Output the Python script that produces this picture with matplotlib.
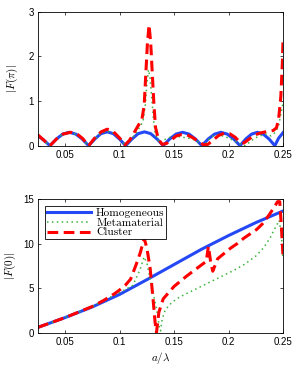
import matplotlib
matplotlib.use("Agg")
import matplotlib.pyplot as plt

# |F(pi)|, top panel
top_hom_x = [0.025, 0.030, 0.036, 0.0419, 0.0478, 0.0538, 0.0597, 0.0656, 0.0715,
             0.0772, 0.0828, 0.0885, 0.0942, 0.0998, 0.1055,
             0.1113, 0.117, 0.1228, 0.1285, 0.1343, 0.140,
             0.1459, 0.1518, 0.1578, 0.1637, 0.1696, 0.1755,
             0.1813, 0.1872, 0.193, 0.1988, 0.2047, 0.2105,
             0.2158, 0.2212, 0.2265, 0.2318, 0.2372, 0.2425, 0.246, 0.25]
top_hom_y = [0.22, 0.13, 0.0, 0.15, 0.26, 0.30, 0.26, 0.15, 0.0,
             0.15, 0.27, 0.31, 0.27, 0.15, 0.0,
             0.15, 0.27, 0.31, 0.27, 0.15, 0.0,
             0.15, 0.26, 0.30, 0.26, 0.15, 0.0,
             0.15, 0.26, 0.30, 0.26, 0.15, 0.0,
             0.15, 0.26, 0.30, 0.26, 0.15, 0.0, 0.17, 0.29]

top_meta_x = [0.025, 0.030, 0.036, 0.0419, 0.0478, 0.0538, 0.0597, 0.0656, 0.0715,
              0.0772, 0.0828, 0.0885, 0.0942, 0.0998, 0.1055, 0.110, 0.114, 0.118,
              0.1215, 0.1235, 0.125, 0.1265, 0.128, 0.1295, 0.131, 0.1325, 0.1345,
              0.137, 0.140, 0.145, 0.150, 0.155, 0.160, 0.165, 0.170, 0.1745, 0.178,
              0.182, 0.186, 0.191, 0.196, 0.201, 0.206, 0.211, 0.215, 0.219, 0.224,
              0.229, 0.234, 0.239, 0.243, 0.246, 0.248, 0.25]
top_meta_y = [0.2, 0.12, 0.0, 0.15, 0.26, 0.3, 0.26, 0.15, 0.0,
              0.15, 0.28, 0.33, 0.28, 0.15, 0.01, 0.12, 0.25, 0.4,
              0.55, 0.9, 1.4, 1.7, 1.5, 1.05, 0.6, 0.3, 0.15,
              0.05, 0.12, 0.18, 0.21, 0.2, 0.18, 0.16, 0.12, 0.04, 0.02,
              0.14, 0.22, 0.24, 0.21, 0.16, 0.1, 0.04, 0.0, 0.07, 0.17,
              0.22, 0.26, 0.22, 0.3, 0.45, 0.7, 0.95]

top_clu_x = [0.025, 0.030, 0.036, 0.042, 0.048, 0.055, 0.060, 0.066, 0.0715,
             0.077, 0.083, 0.0886, 0.094, 0.100, 0.105, 0.109, 0.113, 0.117,
             0.1205, 0.1225, 0.124, 0.1255, 0.127, 0.1285, 0.130, 0.1315, 0.133,
             0.1355, 0.139, 0.143, 0.147, 0.152, 0.157, 0.162, 0.167, 0.172, 0.177,
             0.181, 0.186, 0.191, 0.196, 0.201, 0.206, 0.2105, 0.214, 0.219, 0.224,
             0.230, 0.236, 0.241, 0.244, 0.246, 0.248, 0.2495, 0.25]
top_clu_y = [0.24, 0.13, 0.0, 0.15, 0.26, 0.3, 0.28, 0.16, 0.0,
             0.17, 0.31, 0.37, 0.32, 0.17, 0.02, 0.12, 0.28, 0.45,
             0.6, 0.9, 1.6, 2.3, 2.7, 2.3, 1.6, 0.9, 0.4,
             0.15, 0.03, 0.05, 0.12, 0.22, 0.25, 0.24, 0.18, 0.1, 0.02,
             0.03, 0.13, 0.23, 0.28, 0.27, 0.19, 0.08, 0.06, 0.15, 0.24,
             0.29, 0.32, 0.34, 0.4, 0.6, 1.1, 1.9, 2.35]

# |F(0)|, bottom panel
bot_hom_x = [0.025, 0.05, 0.075, 0.1, 0.125, 0.15, 0.175, 0.2, 0.225, 0.25]
bot_hom_y = [0.6, 1.7, 2.9, 4.3, 5.95, 7.65, 9.35, 10.9, 12.35, 13.65]

bot_meta_x = [0.025, 0.05, 0.075, 0.09, 0.1, 0.106, 0.112, 0.1185, 0.1225, 0.125,
              0.128, 0.131, 0.134, 0.1365, 0.1375, 0.139, 0.142, 0.148, 0.155, 0.165,
              0.175, 0.185, 0.195, 0.205, 0.215, 0.225, 0.232, 0.238, 0.243, 0.2465,
              0.2485, 0.25]
bot_meta_y = [0.6, 1.7, 2.95, 3.9, 4.5, 4.9, 5.3, 7.0, 8.5, 7.8,
              6.0, 4.3, 2.6, 0.6, 0.2, 1.5, 2.6, 3.4, 4.0, 4.6,
              5.2, 5.8, 6.4, 7.0, 7.7, 8.6, 9.5, 10.6, 11.8, 12.6,
              11.0, 8.3]

bot_clu_x = [0.025, 0.05, 0.075, 0.085, 0.095, 0.1, 0.105, 0.11, 0.115, 0.119,
             0.1225, 0.125, 0.128, 0.1305, 0.1325, 0.1338, 0.136, 0.14, 0.15, 0.162,
             0.174, 0.1795, 0.1815, 0.1835, 0.1855, 0.19, 0.196, 0.202, 0.208, 0.214,
             0.22, 0.226, 0.231, 0.236, 0.241, 0.245, 0.247, 0.2485, 0.25]
bot_clu_y = [0.6, 1.7, 2.95, 3.6, 4.35, 4.8, 5.3, 6.0, 7.6, 9.0,
             10.6, 9.5, 7.2, 4.0, 1.2, 0.0, 2.3, 3.8, 5.2, 6.4,
             7.5, 8.0, 9.7, 8.0, 6.9, 8.3, 8.9, 9.5, 10.0, 10.6,
             11.1, 11.6, 12.2, 13.0, 13.9, 14.7, 14.7, 12.0, 8.6]

labels = ["Homogeneous", "Metamaterial", "Cluster"]

plt.rcParams["font.family"] = "Liberation Sans"
plt.rcParams["mathtext.fontset"] = "cm"
plt.rcParams["font.size"] = 7

blue = "#2448f5"
green = "#3cb43c"
red = "#ff0000"

fig = plt.figure(figsize=(2.99, 3.68), dpi=100)
ax1 = fig.add_axes([38 / 299, 1 - 145.7 / 368, 245 / 299, 134 / 368])
ax2 = fig.add_axes([38 / 299, 1 - 332.7 / 368, 245 / 299, 133.7 / 368])

for ax, hx, hy, mx, my, cx, cy in [
    (ax1, top_hom_x, top_hom_y, top_meta_x, top_meta_y, top_clu_x, top_clu_y),
    (ax2, bot_hom_x, bot_hom_y, bot_meta_x, bot_meta_y, bot_clu_x, bot_clu_y),
]:
    ax.plot(hx, hy, color=blue, lw=2.2, label=labels[0])
    ax.plot(mx, my, color=green, lw=1.1, ls=(0, (1, 2.2)), label=labels[1])
    ax.plot(cx, cy, color=red, lw=2.2, ls=(0, (3.5, 1.8)), label=labels[2])
    ax.set_xlim(0.025, 0.25)
    ax.set_xticks([0.05, 0.1, 0.15, 0.2, 0.25])
    ax.set_xticklabels(["0.05", "0.1", "0.15", "0.2", "0.25"])
    ax.tick_params(direction="in", length=2.5, width=0.5, top=True, right=True, pad=3)
    for s in ax.spines.values():
        s.set_linewidth(0.6)

ax1.set_ylim(0, 3)
ax1.set_yticks([0, 1, 2, 3])
ax1.set_ylabel(r"$|F(\pi)|$", fontsize=8, labelpad=6)

ax2.set_ylim(0, 15)
ax2.set_yticks([0, 5, 10, 15])
ax2.set_ylabel(r"$|F(0)|$", fontsize=8, labelpad=4)
ax2.set_xlabel(r"$a/\lambda$", fontsize=8, labelpad=2)

leg = ax2.legend(loc="upper left", prop={"family": "cmr10", "size": 8.2},
                 frameon=True, fancybox=False, framealpha=1, edgecolor="black",
                 handlelength=3.9, labelspacing=0.0, borderpad=0.15,
                 handletextpad=0.45, borderaxespad=0.6)
leg.get_frame().set_linewidth(0.6)

fig.savefig("out.png", dpi=100)
